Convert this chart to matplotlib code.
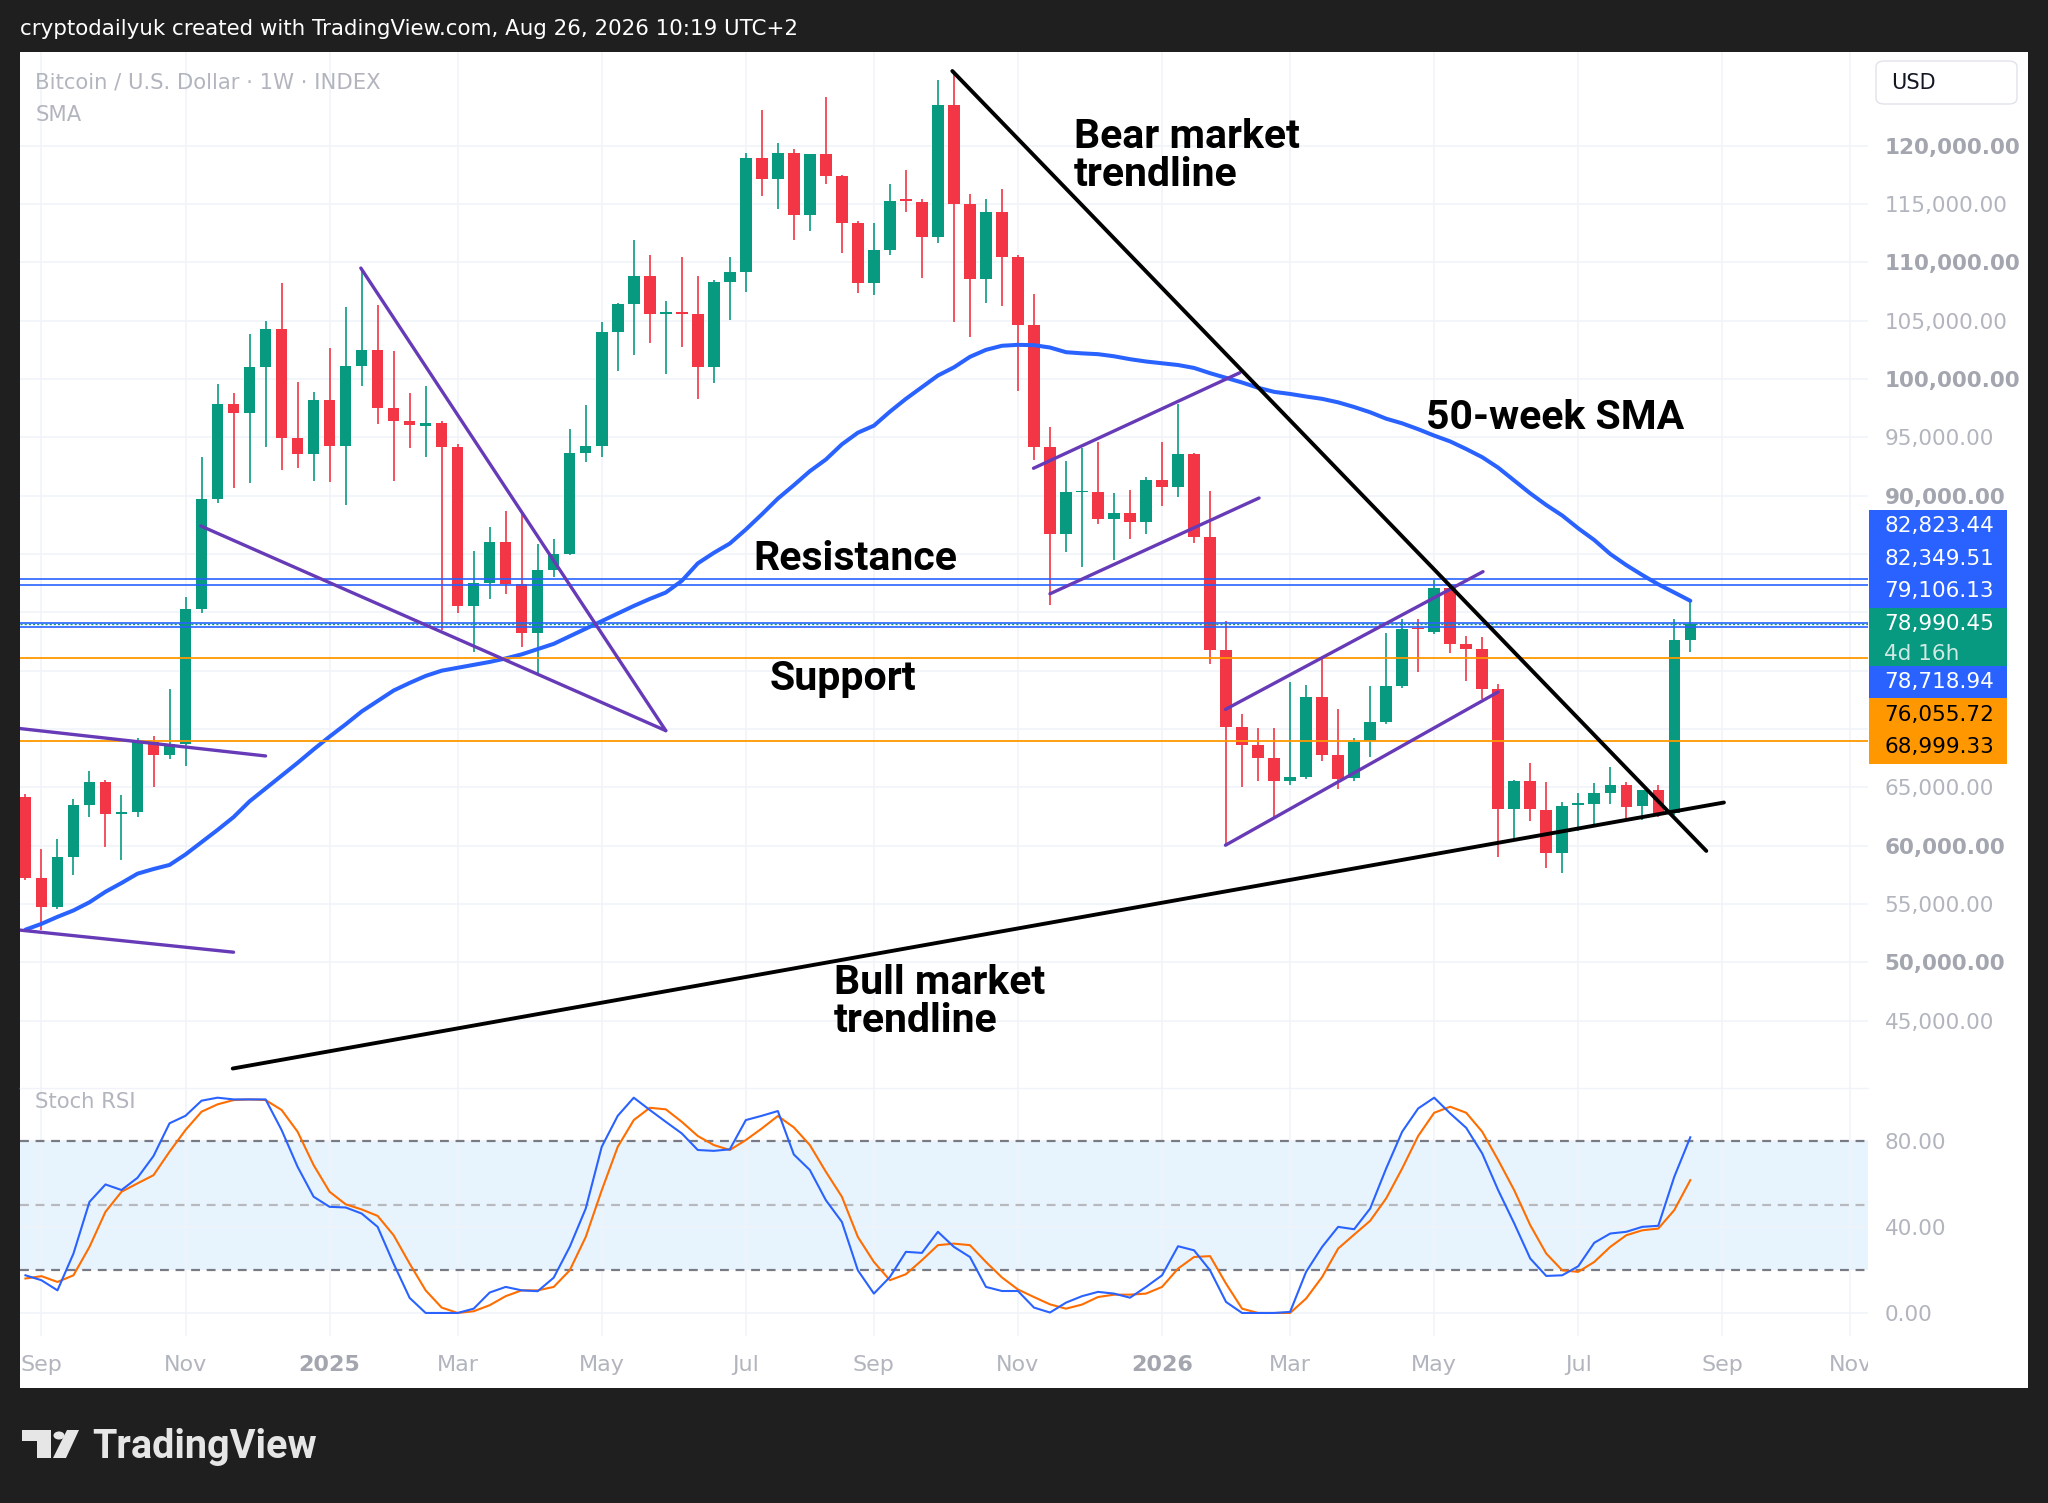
import numpy as np
import pandas as pd
import matplotlib
matplotlib.use("Agg")
import matplotlib.pyplot as plt
from matplotlib.patches import Rectangle, FancyBboxPatch, Polygon, Circle
from matplotlib.transforms import Bbox, blended_transform_factory

# ---- data (weekly BTC/USD candles starting 2024-08-26) ----
start = "2024-08-26"
opens = [64200, 57250, 54750, 59050, 63500, 65500, 62700, 62850, 68850, 67800,
         68700, 80250, 89750, 97850, 97100, 101000, 104300, 94950, 93550, 98200,
         94300, 101100, 102500, 97550, 96400, 96000, 96250, 94200, 80550, 82500,
         86000, 82400, 78250, 83600, 85000, 93650, 94300, 104000, 106450, 108850,
         105600, 105750, 105550, 101000, 108350, 109150, 118950, 117150, 119400, 114100,
         119250, 117400, 113400, 108200, 111050, 115400, 115200, 112150, 123450, 115000,
         108600, 114350, 110450, 104600, 94200, 86700, 90300, 90350, 88000, 88500,
         87750, 91350, 90750, 93550, 86450, 76750, 70200, 68650, 67500, 65550,
         65850, 72750, 67750, 65800, 68950, 70600, 73650, 78650, 78350, 82050,
         77250, 76900, 73450, 63150, 65550, 63100, 59350, 63450, 63600, 64550,
         65200, 63400, 64750, 62800, 77600]
highs = [64400, 59700, 60600, 64000, 66400, 65600, 64350, 69200, 69400, 73450,
         81350, 93300, 99550, 98800, 103850, 104950, 108250, 99750, 98850, 102700,
         106150, 109500, 106350, 102400, 98800, 99400, 96400, 94450, 85250, 87350,
         88700, 88600, 85900, 86300, 95700, 97800, 104850, 106500, 111900, 110650,
         106700, 110500, 108850, 108450, 110500, 119350, 123100, 120250, 119750, 119300,
         124150, 117500, 113550, 113350, 116700, 117900, 115450, 125650, 126400, 115900,
         115450, 116250, 110650, 107300, 95900, 93000, 94100, 94600, 90250, 90450,
         91600, 94600, 97850, 93700, 90400, 79250, 71300, 70050, 70050, 74000,
         73800, 76050, 71750, 69200, 73700, 78200, 79400, 79400, 82750, 82200,
         78000, 77900, 73850, 65600, 67100, 65500, 63750, 64550, 65350, 66750,
         65450, 64800, 65200, 79400, 80850]
lows = [57100, 52800, 54550, 57450, 62500, 59850, 58800, 62450, 65050, 67400,
        66800, 79950, 89400, 90650, 91050, 94200, 92200, 92400, 91300, 91150,
        89200, 99400, 96150, 91250, 94100, 93350, 78500, 79950, 76600, 81150,
        81550, 77000, 74800, 83050, 84900, 92900, 93350, 100700, 102050, 103050,
        100400, 102750, 98300, 99650, 105100, 107500, 115700, 114600, 111900, 112650,
        116700, 110800, 107350, 107200, 110650, 114350, 108700, 111650, 104900, 103600,
        106500, 106300, 98950, 93050, 80650, 85200, 83850, 87550, 84450, 86250,
        86700, 89100, 89900, 85950, 75550, 60050, 65050, 65550, 62500, 65200,
        65750, 67250, 64900, 65550, 67600, 70450, 73550, 74850, 78150, 76550,
        74100, 72550, 59050, 60700, 62150, 58050, 57700, 61250, 61900, 63550,
        62350, 62200, 62500, 62650, 76600]
closes = [57250, 54750, 59050, 63500, 65500, 62700, 62850, 68850, 67800, 68700,
          80250, 89750, 97850, 97100, 101000, 104300, 94950, 93550, 98200, 94300,
          101100, 102500, 97550, 96400, 96050, 96250, 94200, 80550, 82500, 86000,
          82400, 78250, 83600, 85000, 93650, 94300, 104000, 106450, 108850, 105600,
          105750, 105550, 101000, 108350, 109150, 118950, 117150, 119350, 114100, 119250,
          117400, 113400, 108200, 111050, 115300, 115250, 112150, 123450, 115000, 108600,
          114350, 110450, 104600, 94200, 86700, 90300, 90400, 88000, 88500, 87750,
          91350, 90750, 93600, 86450, 76750, 70200, 68650, 67500, 65550, 65900,
          72750, 67750, 65750, 68900, 70600, 73700, 78600, 78550, 82050, 77250,
          76900, 73400, 63150, 65550, 63150, 59350, 63400, 63650, 64550, 65200,
          63350, 64750, 62800, 77600, 78990.45]
sma50 = [52800, 53300, 53900, 54450, 55150, 56050, 56800, 57600, 58000, 58350,
         59250, 60300, 61350, 62450, 63800, 64900, 66000, 67100, 68250, 69350,
         70400, 71500, 72400, 73300, 73950, 74550, 75000, 75250, 75500, 75750,
         76050, 76400, 76850, 77300, 77950, 78600, 79250, 79900, 80550, 81150,
         81700, 82700, 84200, 85100, 85900, 87100, 88400, 89750, 90900, 92100,
         93100, 94400, 95400, 96000, 97200, 98300, 99300, 100300, 101000, 101900,
         102500, 102850, 102930, 102900, 102700, 102300, 102200, 102130, 101950, 101700,
         101500, 101350, 101200, 100950, 100500, 100100, 99700, 99250, 98900, 98720,
         98500, 98300, 98000, 97600, 97150, 96600, 96200, 95700, 95150, 94650,
         94000, 93300, 92400, 91300, 90200, 89200, 88300, 87200, 86200, 85000,
         84050, 83200, 82400, 81700, 80990]
stoch_k = [17.5, 15.2, 10.5, 27.6, 51.6, 59.7, 57.1, 62.8, 72.9, 88.1,
           91.6, 98.6, 100, 99.2, 99.2, 99.2, 85, 67.9, 54, 49.3,
           49, 46.2, 40, 22.9, 7, 0, 0, 0, 2, 9.5,
           12.1, 10.5, 10.1, 16.4, 30.7, 48.5, 77.2, 91.6, 100, 94.3,
           88.8, 83.4, 75.7, 75.3, 76, 89.6, 91.6, 93.8, 73.6, 66.4,
           52.4, 42.3, 19.8, 9, 16.7, 28.4, 27.9, 37.7, 30.7, 26,
           12.1, 10.2, 10.2, 2.5, 0.2, 4.8, 7.8, 9.8, 9, 7.1,
           12.1, 17.5, 31, 29.1, 19.8, 5.1, 0, 0, 0, 0.5,
           19.1, 30.7, 40, 38.9, 48.5, 67.1, 84.2, 95, 100, 92.7,
           86, 74.1, 57, 41.6, 25.3, 17.2, 17.5, 21.7, 32.6, 36.9,
           37.7, 40, 40.5, 63.3, 81.6]
stoch_d = [16, 17.1, 14.4, 17.5, 30.7, 47, 56.3, 60.2, 64, 74.9,
           85, 93.5, 96.9, 98.9, 99.2, 98.9, 94.3, 84.2, 68.7, 56.3,
           50.5, 48.1, 45.1, 36.1, 22.9, 10.5, 2.5, 0, 0.8, 3.6,
           7.8, 10.5, 10.5, 12.1, 19.8, 35.3, 57, 77.2, 89.6, 95.3,
           94.6, 88.8, 82.2, 78, 75.7, 80.3, 85.7, 91.5, 86.2, 78,
           65.6, 54, 35.3, 23.7, 15.2, 18, 24.5, 31.5, 32.2, 31.5,
           23.7, 16.5, 10.9, 7.4, 4, 2, 3.9, 7.4, 8.5, 8.5,
           9, 12.1, 20.6, 26, 26.4, 13.6, 2, 0, 0, 0,
           6.7, 16.7, 29.9, 36.4, 42.8, 53.2, 67.1, 82.2, 93, 95.8,
           93, 84.2, 71, 57, 40.8, 27.6, 19.8, 19.1, 23.7, 30.7,
           36.1, 38.4, 39.2, 47.8, 61.7]

blue_levels = [82823.44, 82349.51, 79106.13, 78718.94]
orange_levels = [76055.72, 68999.33]
last_price = 78990.45
countdown = "4d 16h"

# hand drawn lines, (week index, price)
bear_line = [(57.9, 126400), (105.0, 59550)]
bull_line = [(12.95, 40900), (106.1, 63700)]
purple_lines = [
    [(-0.6, 70080), (15.0, 67690)],
    [(-0.6, 52800), (13.0, 50870)],
    [(10.96, 87400), (40.0, 69860)],
    [(20.95, 109510), (40.0, 69860)],
    [(62.97, 92350), (75.86, 100540)],
    [(64.0, 81590), (77.06, 89800)],
    [(74.96, 71680), (91.05, 83490)],
    [(74.96, 60040), (92.0, 73180)],
]
notes = [
    ("Bear market\ntrendline", 65.5, 119100),
    ("50-week SMA", 87.5, 96660),
    ("Resistance", 45.5, 84580),
    ("Support", 46.5, 74290),
    ("Bull market\ntrendline", 50.5, 46600),
]
tick_months = ["2024-09", "2024-11", "2025-01", "2025-03", "2025-05", "2025-07",
               "2025-09", "2025-11", "2026-01", "2026-03", "2026-05", "2026-07",
               "2026-09", "2026-11"]

# ---- figure ----
BG = "#1f1f1f"
GREEN = "#089981"
RED = "#f23645"
BLUE = "#2962ff"
ORANGE = "#ff9800"
PURPLE = "#673ab7"
GRID = "#f0f3fa"
TXT = "#b2b5be"
W, H = 2048, 1503

fig = plt.figure(figsize=(W / 100, H / 100), dpi=100, facecolor=BG)


def fbox(x0, y0, x1, y1):
    # pixel box (top-down) -> figure fraction [l, b, w, h]
    return [x0 / W, 1 - y1 / H, (x1 - x0) / W, (y1 - y0) / H]


panel = Rectangle((20 / W, 1 - 1388 / H), 2008 / W, 1336 / H,
                  transform=fig.transFigure, facecolor="white", edgecolor="none", zorder=-5)
fig.patches.append(panel)

ax = fig.add_axes(fbox(20, 52, 1868, 1088))
ax2 = fig.add_axes(fbox(20, 1088, 1868, 1336), sharex=ax)
for a in (ax, ax2):
    a.set_facecolor("none")
    a.set_zorder(1)
    for s in a.spines.values():
        s.set_visible(False)

n = len(closes)
x = np.arange(n)
o = np.array(opens, float)
c = np.array(closes, float)
up = c >= o
cols = np.where(up, GREEN, RED)

# tick positions: first weekly bar of each labelled month
weeks = pd.date_range(start, "2026-12-31", freq="W-MON")
t0 = pd.Timestamp(start)
tick_pos, tick_lab = [], []
for m in tick_months:
    per = pd.Period(m)
    first = weeks[(weeks.year == per.year) & (weeks.month == per.month)][0]
    tick_pos.append((first - t0).days / 7)
    tick_lab.append(str(per.year) if per.month == 1 else first.strftime("%b"))

# candles
ax.vlines(x, lows, highs, colors=cols, lw=1.2, zorder=3)
body_lo = np.minimum(o, c)
body_h = np.maximum(np.abs(c - o), 130)
ax.bar(x, body_h, bottom=body_lo, width=0.72, color=cols, lw=0, zorder=3)

# SMA
ax.plot(x, sma50, color=BLUE, lw=2.9, zorder=4, solid_capstyle="round")

# horizontal levels
for v in blue_levels:
    ax.axhline(v, color=BLUE, lw=1.2, zorder=5)
for v in orange_levels:
    ax.axhline(v, color=ORANGE, lw=1.3, zorder=5)
ax.axhline(last_price, color=GREEN, lw=1.0, ls=(0, (1.5, 1.5)), zorder=5)

# drawings
for seg in purple_lines:
    xs, ys = zip(*seg)
    ax.plot(xs, ys, color=PURPLE, lw=2.4, zorder=6, solid_capstyle="round")
for seg in (bear_line, bull_line):
    xs, ys = zip(*seg)
    ax.plot(xs, ys, color="black", lw=2.8, zorder=6, solid_capstyle="round")

for txt, nx, ny in notes:
    ax.text(nx, ny, txt, fontsize=29.5, fontweight="bold", family="Roboto",
            color="black", ha="left", va="center", linespacing=0.98, zorder=7)

ax.set_xlim(-0.34, 115.1)
ax.set_ylim(39230, 128030)

yt = list(range(45000, 125000, 5000))
ax.set_yticks(yt)
covered = (67000, 88000)
ax.set_yticklabels(["" if covered[0] < v < covered[1] else f"{v:,.2f}" for v in yt])
ax.yaxis.tick_right()
ax.tick_params(axis="y", length=0, pad=12, labelsize=15.5, labelcolor=TXT)
for lbl, v in zip(ax.get_yticklabels(), yt):
    if v % 10000 == 0:
        lbl.set_fontweight("bold")
        lbl.set_color("#a3a6af")
ax.tick_params(axis="x", length=0, labelbottom=False)
ax.set_xticks(tick_pos)
ax.grid(True, color=GRID, lw=1.2, zorder=0)

# price labels on the axis, stacked around the last price
h = 2800
tr = blended_transform_factory(ax.transAxes, ax.transData)
bx0, bw = 1.0005, 0.0747
tx = 1.0087


def tag(center, text, face, fg, hh=h):
    ax.add_patch(Rectangle((bx0, center - hh / 2), bw, hh, transform=tr, facecolor=face,
                           edgecolor="none", clip_on=False, zorder=8))
    ax.text(tx, center, text, transform=tr, color=fg, fontsize=15.5, va="center",
            ha="left", clip_on=False, zorder=9)


green_top = last_price + h / 2
green_bot = last_price - h / 2 - 0.77 * h
ax.add_patch(Rectangle((bx0, green_bot), bw, green_top - green_bot, transform=tr,
                       facecolor=GREEN, edgecolor="none", clip_on=False, zorder=8))
ax.text(tx, last_price, f"{last_price:,.2f}", transform=tr, color="white", fontsize=15.5,
        va="center", ha="left", clip_on=False, zorder=9)
ax.text(tx, last_price - 0.9 * h, countdown, transform=tr, color="#cfe9e4", fontsize=15.5,
        va="center", ha="left", clip_on=False, zorder=9)

levels = [(v, BLUE, "white") for v in blue_levels] + [(v, ORANGE, "black") for v in orange_levels]
top = green_top
for v, face, fg in sorted([l for l in levels if l[0] > last_price]):
    cen = max(v, top + h / 2)
    tag(cen, f"{v:,.2f}", face, fg)
    top = cen + h / 2
bot = green_bot
for v, face, fg in sorted([l for l in levels if l[0] < last_price], reverse=True):
    cen = min(v, bot - h / 2)
    tag(cen, f"{v:,.2f}", face, fg)
    bot = cen - h / 2

# legend text
ax.text(0.0082, 0.971, "Bitcoin / U.S. Dollar · 1W · INDEX", transform=ax.transAxes,
        color=TXT, fontsize=15.2, va="center", ha="left", zorder=9)
ax.text(0.0082, 0.939, "SMA", transform=ax.transAxes, color=TXT, fontsize=15.2,
        va="center", ha="left", zorder=9)

# ---- Stoch RSI pane ----
ax2.axhspan(20, 80, color="#2196f3", alpha=0.1, lw=0, zorder=1)
ax2.axhline(80, color="#787b86", lw=1.6, ls=(0, (4, 3)), zorder=2)
ax2.axhline(20, color="#787b86", lw=1.6, ls=(0, (4, 3)), zorder=2)
ax2.axhline(50, color="#b7b9bf", lw=1.6, ls=(0, (4, 3)), zorder=2)
ax2.plot(x, stoch_d, color="#ff6d00", lw=1.5, zorder=3)
ax2.plot(x, stoch_k, color=BLUE, lw=1.5, zorder=4)
ax2.set_ylim(-10.7, 104.5)
ax2.set_yticks([0, 40, 80])
ax2.set_yticklabels(["0.00", "40.00", "80.00"])
ax2.yaxis.tick_right()
ax2.tick_params(axis="y", length=0, pad=12, labelsize=15.5, labelcolor=TXT)
ax2.grid(True, color=GRID, lw=1.2, zorder=0)
ax2.set_xticks(tick_pos)
ax2.set_xticklabels(tick_lab)
ax2.tick_params(axis="x", length=0, pad=14, labelsize=16, labelcolor=TXT)
clip = Bbox.from_extents(20, 0, 1868, H)
for lbl, t in zip(ax2.get_xticklabels(), tick_lab):
    if t.isdigit():
        lbl.set_fontweight("bold")
        lbl.set_color("#a3a6af")
    lbl.set_clip_box(clip)
    lbl.set_clip_on(True)
ax2.text(0.0082, 0.945, "Stoch RSI", transform=ax2.transAxes, color=TXT, fontsize=15.2,
         va="center", ha="left", zorder=9)

# pane separator
fig.add_artist(plt.Line2D([20 / W, 1868 / W], [1 - 1088 / H] * 2, color="#f0f3fa",
                          lw=1, transform=fig.transFigure, zorder=0))

# USD box
fig.patches.append(FancyBboxPatch((1876 / W, 1 - 104 / H), 141 / W, 43 / H,
                                  boxstyle="round,pad=0,rounding_size=0.004",
                                  transform=fig.transFigure, facecolor="white",
                                  edgecolor="#e0e3eb", lw=1))
fig.text(1891 / W, 1 - 83 / H, "USD", color="#131722", fontsize=15, va="center", ha="left")

# header
fig.text(20 / W, 1 - 29 / H, "cryptodailyuk created with TradingView.com, Aug 26, 2026 10:19 UTC+2",
         color="white", fontsize=15.4, va="center", ha="left")

# TradingView logo
LOGO = "#e6e6e6"
fig.patches.append(Polygon([(22 / W, 1 - 1430 / H), (51 / W, 1 - 1430 / H), (51 / W, 1 - 1458 / H),
                            (37 / W, 1 - 1458 / H), (37 / W, 1 - 1441 / H), (22 / W, 1 - 1441 / H)],
                           closed=True, transform=fig.transFigure, facecolor=LOGO, edgecolor="none"))
fig.patches.append(Circle((59 / W, 1 - 1435.5 / H), 5.5 / W, transform=fig.transFigure,
                          facecolor=LOGO, edgecolor="none"))
fig.patches.append(Polygon([(67 / W, 1 - 1430 / H), (79 / W, 1 - 1430 / H), (66 / W, 1 - 1458 / H),
                            (53 / W, 1 - 1458 / H)],
                           closed=True, transform=fig.transFigure, facecolor=LOGO, edgecolor="none"))
fig.text(92 / W, 1 - 1447 / H, "TradingView", color=LOGO, fontsize=28.5, fontweight="bold",
         family="Roboto", va="center", ha="left")

fig.savefig("out.png", dpi=100, facecolor=BG)
